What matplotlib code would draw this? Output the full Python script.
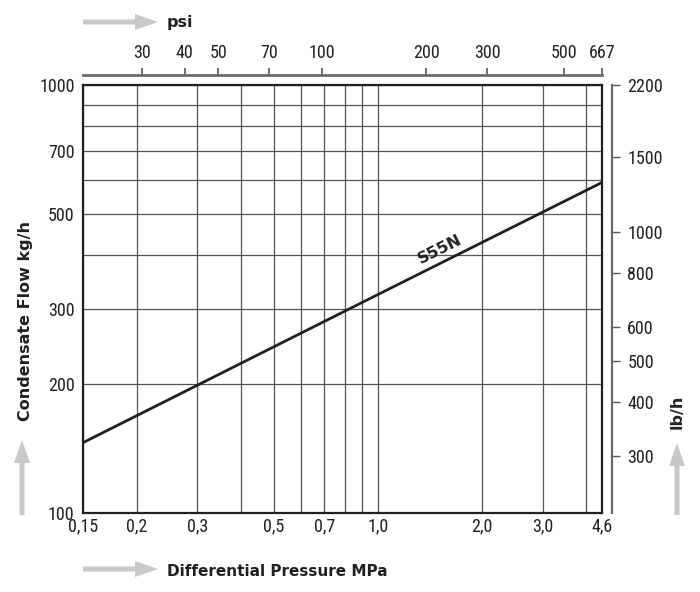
# Diagramma di portata S55N: portata condensa vs pressione differenziale
# scale log-log, asse psi in alto e lb/h a destra
import numpy as np
import matplotlib
matplotlib.use("Agg")
import matplotlib.pyplot as plt
from matplotlib import font_manager as fm
from matplotlib.patches import FancyArrow
from matplotlib.transforms import IdentityTransform
from matplotlib.ticker import FixedLocator, NullFormatter, NullLocator

# scala disegnata: i bordi del grafico corrispondono a ~0,14 e ~4,45 MPa
# (il disegno originale li etichetta 0,15 e 4,6)
x_lo, x_hi = 0.14, 4.45

# curva S55N
pressure_mpa = [x_lo, 1.0, x_hi]
flow_kgh = [146, 324, 592]

x_ticks = [x_lo, 0.2, 0.3, 0.5, 0.7, 1.0, 2.0, 3.0, x_hi]
x_labels = ["0,15", "0,2", "0,3", "0,5", "0,7", "1,0", "2,0", "3,0", "4,6"]
x_grid_extra = [0.4, 0.6, 0.8, 0.9, 4.0]
y_ticks = [100, 200, 300, 500, 700, 1000]
y_grid_extra = [400, 600, 800, 900]
psi_ticks = [30, 40, 50, 70, 100, 200, 300, 500]
psi_labels = ["30", "40", "50", "70", "100", "200", "300", "500", "667"]
lbh_ticks = [300, 400, 500, 600, 800, 1000, 1500, 2200]

MPA_TO_PSI = 145.038
KG_TO_LB = 2.20462

W, H = 700, 592
BOLD = "DejaVu Sans"
FRAME = "#231f20"
GRIGIO = "#555555"
FRECCIA = "#c8c8c8"


# font stretto per i numeri, se installato
def font_stretto():
    nomi = {f.name for f in fm.fontManager.ttflist}
    for n in ["Liberation Sans Narrow", "DejaVu Sans Condensed",
              "Roboto Condensed", "Open Sans Condensed", "Noto Sans Condensed"]:
        if n in nomi:
            return dict(family=n)
    for f in fm.fontManager.ttflist:
        if "Narrow" in f.name or "Condensed" in f.name:
            return dict(family=f.name)
    for f in fm.fontManager.ttflist:
        if str(f.stretch) in ("condensed", "semi-condensed") and f.weight in (400, "normal"):
            return dict(family=f.name, stretch=f.stretch)
    return dict(family="Liberation Sans")


NARROW = font_stretto()


def stile(lab):
    lab.set_fontfamily(NARROW["family"])
    if "stretch" in NARROW:
        lab.set_fontstretch(NARROW["stretch"])


fig = plt.figure(figsize=(W / 100, H / 100), dpi=100)
ax = fig.add_axes([83 / W, 79 / H, 519 / W, 428 / H])
ax.set_xscale("log")
ax.set_yscale("log")
ax.set_xlim(x_lo, x_hi)
ax.set_ylim(100, 1000)

ax.xaxis.set_major_locator(FixedLocator(x_ticks))
ax.xaxis.set_minor_locator(FixedLocator(x_grid_extra))
ax.xaxis.set_minor_formatter(NullFormatter())
ax.set_xticklabels(x_labels)
ax.yaxis.set_major_locator(FixedLocator(y_ticks))
ax.yaxis.set_minor_locator(FixedLocator(y_grid_extra))
ax.yaxis.set_minor_formatter(NullFormatter())
ax.set_yticklabels([str(v) for v in y_ticks])
ax.grid(which="both", color=GRIGIO, lw=0.9)
ax.tick_params(which="both", length=0, labelsize=13, labelcolor=FRAME)
ax.tick_params(axis="x", pad=3)
ax.tick_params(axis="y", pad=6)
for lab in ax.get_xticklabels() + ax.get_yticklabels():
    stile(lab)
for sp in ax.spines.values():
    sp.set_color(FRAME)
    sp.set_linewidth(1.6)

ax.plot(pressure_mpa, flow_kgh, color=FRAME, lw=2.0, solid_capstyle="butt")

# etichetta della curva, ruotata come la retta
p0 = ax.transData.transform((pressure_mpa[0], flow_kgh[0]))
p1 = ax.transData.transform((pressure_mpa[-1], flow_kgh[-1]))
ang = np.degrees(np.arctan2(p1[1] - p0[1], p1[0] - p0[0]))
ax.text(1.51, 414, "S55N", rotation=ang, ha="center", va="center",
        fontsize=11.5, fontweight="bold", family=BOLD, color=FRAME)

# asse psi in alto, staccato dal riquadro
top = ax.secondary_xaxis(1 + 10 / 428, functions=(lambda x: x * MPA_TO_PSI,
                                                 lambda x: x / MPA_TO_PSI))
top.xaxis.set_major_locator(FixedLocator(psi_ticks + [x_hi * MPA_TO_PSI]))
top.xaxis.set_minor_locator(NullLocator())
top.set_xticklabels(psi_labels)
top.tick_params(length=5, width=1.2, color=GRIGIO, labelsize=13, pad=4,
                labelcolor=FRAME)
top.spines["top"].set_color("#6a6a6a")
top.spines["top"].set_linewidth(2.0)
for lab in top.get_xticklabels():
    stile(lab)

# asse lb/h a destra
right = ax.secondary_yaxis(1 + 10 / 519, functions=(lambda y: y * KG_TO_LB,
                                                   lambda y: y / KG_TO_LB))
right.yaxis.set_major_locator(FixedLocator(lbh_ticks))
right.yaxis.set_minor_locator(NullLocator())
right.set_yticklabels([str(v) for v in lbh_ticks])
right.tick_params(length=6, width=1.0, color=GRIGIO, labelsize=13, pad=5,
                  labelcolor=FRAME)
right.spines["right"].set_color("#6a6a6a")
right.spines["right"].set_linewidth(1.6)
for lab in right.get_yticklabels():
    stile(lab)


# frecce grigie e titoli degli assi (coordinate in pixel dall'alto)
def freccia(x0, y0, x1, y1):
    fig.add_artist(FancyArrow(x0, H - y0, x1 - x0, -(y1 - y0), width=5,
                              head_width=16, head_length=23,
                              length_includes_head=True, color=FRECCIA,
                              lw=0, transform=IdentityTransform()))


freccia(83, 22, 158, 22)
freccia(83, 569, 158, 569)
freccia(22, 515, 22, 440)
freccia(677, 515, 677, 443)

kw = dict(fontweight="bold", family=BOLD, color=FRAME)
fig.text(167 / W, 1 - 23 / H, "psi", ha="left", va="center",
         fontsize=11.5, **kw)
fig.text(167 / W, 1 - 571 / H, "Differential Pressure MPa", ha="left",
         va="center", fontsize=11, **kw)
fig.text(26 / W, 1 - 321 / H, "Condensate Flow kg/h", rotation=90,
         ha="center", va="center", fontsize=11.5, **kw)
fig.text(677 / W, 1 - 412 / H, "lb/h", rotation=90, ha="center",
         va="center", fontsize=11.5, **kw)

fig.savefig("out.png", dpi=100, facecolor="white")
